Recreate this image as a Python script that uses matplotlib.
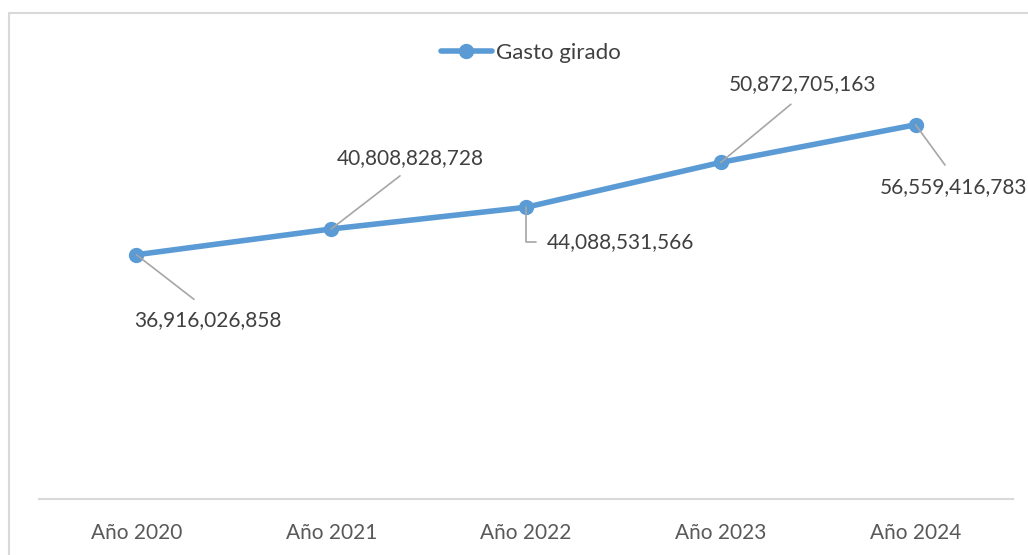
import matplotlib
matplotlib.use("Agg")
import matplotlib.pyplot as plt
from matplotlib.patches import Rectangle

categories = ["Año 2020", "Año 2021", "Año 2022", "Año 2023", "Año 2024"]
values = [36916026858, 40808828728, 44088531566, 50872705163, 56559416783]
series_name = "Gasto girado"

plt.rcParams['font.family'] = ['Lato', 'DejaVu Sans']

W, H = 1028, 555
fig = plt.figure(figsize=(W / 100, H / 100), dpi=100)

# outer chart frame
fig.patches.append(Rectangle((9 / W, -0.1), 1.2, 1 - 13 / H + 0.1, transform=fig.transFigure,
                             fill=False, edgecolor='#D9D9D9', lw=1.5))

left, right = 39 / W, 1013 / W
bottom = 1 - 499 / H
top = 1 - 102 / H
ax = fig.add_axes([left, bottom, right - left, top - bottom])

x = list(range(len(categories)))
line_color = '#5B9BD5'
ax.plot(x, values, color=line_color, lw=4, marker='o', markersize=10,
        markeredgecolor=line_color, label=series_name, solid_capstyle='round')

ax.set_xlim(-0.5, len(categories) - 0.5)
ax.set_ylim(0, 60e9)
ax.set_yticks([])
ax.set_xticks(x)
ax.set_xticklabels(categories, fontsize=15, color='#595959')
ax.tick_params(axis='x', length=0, pad=17)
for s in ['top', 'right', 'left']:
    ax.spines[s].set_visible(False)
ax.spines['bottom'].set_color('#D9D9D9')
ax.spines['bottom'].set_linewidth(1.5)

label_color = '#404040'
leader = '#A6A6A6'
# (dx, dy) offsets in pixels, relpos, connection style, shrink
specs = [
    ((71, -65), (0.5, 1.0), "arc3", 9),
    ((79, 71), (0.5, 0.0), "arc3", 6),
    ((21, -35), (0.0, 0.5), "angle,angleA=0,angleB=90,rad=0", 6),
    ((82, 78), (0.5, 0.0), "arc3", 8),
    ((38, -62), (0.5, 1.0), "arc3", 8),
]
for xi, v, (off, rp, cs, shr) in zip(x, values, specs):
    ax.annotate(f"{v:,}", xy=(xi, v), xytext=off, textcoords='offset pixels',
                ha='center' if rp[0] != 0.0 else 'left', va='center',
                fontsize=15, color=label_color,
                arrowprops=dict(arrowstyle='-', color=leader, lw=1.2, relpos=rp,
                                connectionstyle=cs, shrinkA=shr, shrinkB=0))

fig.legend(loc='center', bbox_to_anchor=(0.5 + 17 / W, 1 - 53 / H), frameon=False,
           fontsize=16, labelcolor='#404040', handlelength=2.3, handletextpad=0.2)

fig.savefig("out.png", dpi=100)
